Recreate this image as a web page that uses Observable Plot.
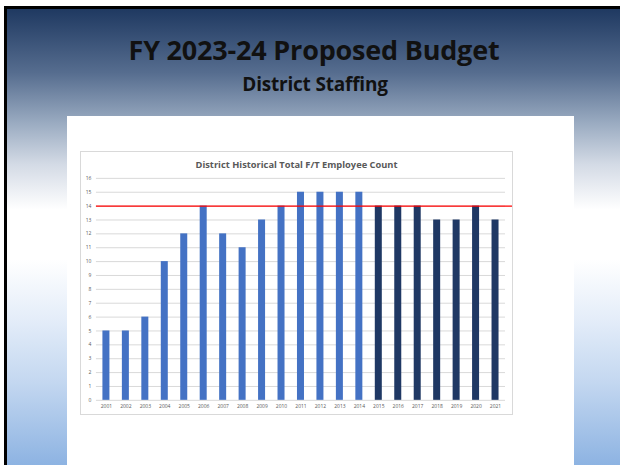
<!DOCTYPE html>
<html>
<head>
<meta charset="utf-8">
<script src="https://cdn.jsdelivr.net/npm/d3@7"></script>
<script src="https://cdn.jsdelivr.net/npm/@observablehq/plot@0.6"></script>
<style>
  html, body { margin: 0; padding: 0; }
  body { width: 620px; height: 465px; overflow: hidden; background: #ffffff; position: relative; font-family: "Open Sans", sans-serif; }
  #slide {
    position: absolute; left: 4px; top: 6px; width: 616px; height: 459px;
    box-sizing: border-box; border-left: 3px solid #000; border-top: 3px solid #000;
    background: linear-gradient(to bottom, #1f3961 0%, #566d8f 14%, #9aabc1 25%, #d3dae5 34%, #ffffff 44%, #ffffff 55%, #e4edf9 68%, #c3d7f0 82%, #8db3e2 100%);
  }
  #title { position: absolute; left: 0; top: 33px; width: 628px; text-align: center; font-weight: 700; font-size: 27px; line-height: 34px; color: #111; letter-spacing: -0.2px; }
  #subtitle { position: absolute; left: 0; top: 72px; width: 630px; text-align: center; font-weight: 700; font-size: 19px; line-height: 25px; color: #111; letter-spacing: -0.2px; }
  #panel { position: absolute; left: 67px; top: 116px; width: 507px; height: 349px; background: #ffffff; }
  #chart { position: absolute; left: 80px; top: 151px; width: 433px; height: 264px; box-sizing: border-box; border: 1px solid #d9d9d9; background: #fff; }
  #chart svg { position: absolute; left: -1px; top: -1px; }
  #ctitle { position: absolute; left: 0; top: 7px; width: 100%; text-align: center; font-weight: 700; font-size: 9.3px; line-height: 12px; color: #595959; z-index: 2; }
</style>
</head>
<body>
<div id="slide"></div>
<div id="title">FY 2023-24 Proposed Budget</div>
<div id="subtitle">District Staffing</div>
<div id="panel"></div>
<div id="chart"><div id="ctitle">District Historical Total F/T Employee Count</div></div>
<script>
const years = ["2001","2002","2003","2004","2005","2006","2007","2008","2009","2010","2011","2012","2013","2014","2015","2016","2017","2018","2019","2020","2021"];
const counts = [5,5,6,10,12,14,12,11,13,14,15,15,15,15,14,14,14,13,13,14,13];
const periods = ["past","past","past","past","past","past","past","past","past","past","past","past","past","past","recent","recent","recent","recent","recent","recent","recent"];
const yTicks = [0,1,2,3,4,5,6,7,8,9,10,11,12,13,14,15,16];
const target = [14];

const data = years.map((y, i) => ({year: y, count: counts[i], period: periods[i]}));

const chart = Plot.plot({
  width: 433,
  height: 264,
  marginLeft: 10,
  marginRight: 0,
  marginTop: 27,
  marginBottom: 14,
  style: {fontFamily: "Open Sans, sans-serif", fontSize: "5px", color: "#595959", background: "transparent", overflow: "visible"},
  x: {domain: years, padding: 0.64, round: false, label: null, tickSize: 0, tickPadding: 4},
  y: {domain: [0, 16], ticks: yTicks, label: null, tickSize: 0, tickPadding: -1},
  color: {domain: ["past", "recent"], range: ["#4472C4", "#1F3864"]},
  marks: [
    Plot.ruleY(yTicks, {stroke: "#d9d9d9", strokeWidth: 1, insetLeft: 6, insetRight: 6}),
    Plot.barY(data, {x: "year", y: "count", fill: "period"}),
    Plot.ruleY(target, {stroke: "#ff0000", strokeWidth: 1.2, insetLeft: 6, insetRight: -1})
  ]
});
document.getElementById("chart").appendChild(chart);
</script>
</body>
</html>
